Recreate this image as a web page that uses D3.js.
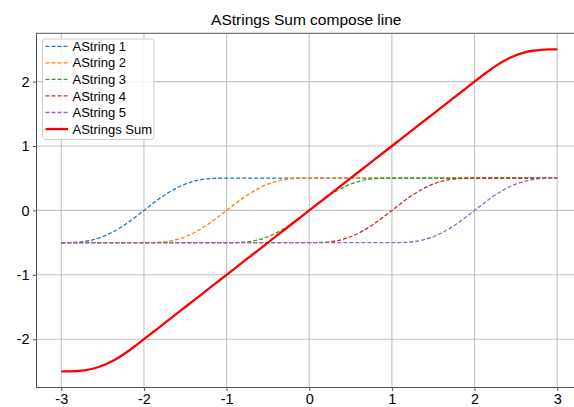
<!DOCTYPE html>
<html>
<head>
  <meta charset='utf-8'>
  <script src='https://cdn.jsdelivr.net/npm/d3@7'></script>
  <style>
    body { margin: 0; background: white; }
    svg { display: block; font-family: 'Liberation Sans', Arial, sans-serif; }
  </style>
</head>
<body>
<script>
  // x samples (step 0.1)
  var xs = [
    -3.0, -2.9, -2.8, -2.7, -2.6, -2.5, -2.4, -2.3, -2.2, -2.1,
    -2.0, -1.9, -1.8, -1.7, -1.6, -1.5, -1.4, -1.3, -1.2, -1.1,
    -1.0, -0.9, -0.8, -0.7, -0.6, -0.5, -0.4, -0.3, -0.2, -0.1,
    0.0, 0.1, 0.2, 0.3, 0.4, 0.5, 0.6, 0.7, 0.8, 0.9,
    1.0, 1.1, 1.2, 1.3, 1.4, 1.5, 1.6, 1.7, 1.8, 1.9,
    2.0, 2.1, 2.2, 2.3, 2.4, 2.5, 2.6, 2.7, 2.8, 2.9,
    3.0
  ];

  var string1 = [
    -0.5, -0.499, -0.494, -0.479, -0.451, -0.409, -0.351, -0.279, -0.194, -0.099,
    0, 0.099, 0.194, 0.279, 0.351, 0.409, 0.451, 0.479, 0.494, 0.499,
    0.5, 0.5, 0.5, 0.5, 0.5, 0.5, 0.5, 0.5, 0.5, 0.5,
    0.5, 0.5, 0.5, 0.5, 0.5, 0.5, 0.5, 0.5, 0.5, 0.5,
    0.5, 0.5, 0.5, 0.5, 0.5, 0.5, 0.5, 0.5, 0.5, 0.5,
    0.5, 0.5, 0.5, 0.5, 0.5, 0.5, 0.5, 0.5, 0.5, 0.5,
    0.5
  ];
  var string2 = [
    -0.5, -0.5, -0.5, -0.5, -0.5, -0.5, -0.5, -0.5, -0.5, -0.5,
    -0.5, -0.499, -0.494, -0.479, -0.451, -0.409, -0.351, -0.279, -0.194, -0.099,
    0, 0.099, 0.194, 0.279, 0.351, 0.409, 0.451, 0.479, 0.494, 0.499,
    0.5, 0.5, 0.5, 0.5, 0.5, 0.5, 0.5, 0.5, 0.5, 0.5,
    0.5, 0.5, 0.5, 0.5, 0.5, 0.5, 0.5, 0.5, 0.5, 0.5,
    0.5, 0.5, 0.5, 0.5, 0.5, 0.5, 0.5, 0.5, 0.5, 0.5,
    0.5
  ];
  var string3 = [
    -0.5, -0.5, -0.5, -0.5, -0.5, -0.5, -0.5, -0.5, -0.5, -0.5,
    -0.5, -0.5, -0.5, -0.5, -0.5, -0.5, -0.5, -0.5, -0.5, -0.5,
    -0.5, -0.499, -0.494, -0.479, -0.451, -0.409, -0.351, -0.279, -0.194, -0.099,
    0, 0.099, 0.194, 0.279, 0.351, 0.409, 0.451, 0.479, 0.494, 0.499,
    0.5, 0.5, 0.5, 0.5, 0.5, 0.5, 0.5, 0.5, 0.5, 0.5,
    0.5, 0.5, 0.5, 0.5, 0.5, 0.5, 0.5, 0.5, 0.5, 0.5,
    0.5
  ];
  var string4 = [
    -0.5, -0.5, -0.5, -0.5, -0.5, -0.5, -0.5, -0.5, -0.5, -0.5,
    -0.5, -0.5, -0.5, -0.5, -0.5, -0.5, -0.5, -0.5, -0.5, -0.5,
    -0.5, -0.5, -0.5, -0.5, -0.5, -0.5, -0.5, -0.5, -0.5, -0.5,
    -0.5, -0.499, -0.494, -0.479, -0.451, -0.409, -0.351, -0.279, -0.194, -0.099,
    0, 0.099, 0.194, 0.279, 0.351, 0.409, 0.451, 0.479, 0.494, 0.499,
    0.5, 0.5, 0.5, 0.5, 0.5, 0.5, 0.5, 0.5, 0.5, 0.5,
    0.5
  ];
  var string5 = [
    -0.5, -0.5, -0.5, -0.5, -0.5, -0.5, -0.5, -0.5, -0.5, -0.5,
    -0.5, -0.5, -0.5, -0.5, -0.5, -0.5, -0.5, -0.5, -0.5, -0.5,
    -0.5, -0.5, -0.5, -0.5, -0.5, -0.5, -0.5, -0.5, -0.5, -0.5,
    -0.5, -0.5, -0.5, -0.5, -0.5, -0.5, -0.5, -0.5, -0.5, -0.5,
    -0.5, -0.499, -0.494, -0.479, -0.451, -0.409, -0.351, -0.279, -0.194, -0.099,
    0, 0.099, 0.194, 0.279, 0.351, 0.409, 0.451, 0.479, 0.494, 0.499,
    0.5
  ];
  var stringsSum = [
    -2.5, -2.499, -2.494, -2.479, -2.451, -2.409, -2.351, -2.279, -2.194, -2.099,
    -2.0, -1.9, -1.8, -1.7, -1.6, -1.5, -1.4, -1.3, -1.2, -1.1,
    -1.0, -0.9, -0.8, -0.7, -0.6, -0.5, -0.4, -0.3, -0.2, -0.1,
    0.0, 0.1, 0.2, 0.3, 0.4, 0.5, 0.6, 0.7, 0.8, 0.9,
    1.0, 1.1, 1.2, 1.3, 1.4, 1.5, 1.6, 1.7, 1.8, 1.9,
    2.0, 2.099, 2.194, 2.279, 2.351, 2.409, 2.451, 2.479, 2.494, 2.499,
    2.5
  ];

  var seriesNames = ['AString 1', 'AString 2', 'AString 3', 'AString 4', 'AString 5', 'AStrings Sum'];
  var seriesColors = ['#1f77b4', '#ff7f0e', '#2ca02c', '#d62728', '#9467bd', '#ff0000'];
  var xTicks = [-3, -2, -1, 0, 1, 2, 3];
  var yTicks = [-2, -1, 0, 1, 2];
  var titleText = 'AStrings Sum compose line';

  (function() {
    var W = 574, H = 407;
    var pLeft = 36.5, pRight = 582, pTop = 33.3, pBottom = 387.5;

    var svg = d3.select('body').append('svg')
      .attr('width', W)
      .attr('height', H);

    var x = d3.scaleLinear().domain([-3.3, 3.3]).range([pLeft, pRight]);
    var y = d3.scaleLinear().domain([-2.75, 2.75]).range([pBottom, pTop]);

    // grid
    svg.append('g').selectAll('line')
      .data(xTicks).enter().append('line')
      .attr('x1', function(d) { return x(d); })
      .attr('x2', function(d) { return x(d); })
      .attr('y1', pTop).attr('y2', pBottom)
      .attr('stroke', '#c4c4c4').attr('stroke-width', 1.1);
    svg.append('g').selectAll('line')
      .data(yTicks).enter().append('line')
      .attr('x1', pLeft).attr('x2', pRight)
      .attr('y1', function(d) { return y(d); })
      .attr('y2', function(d) { return y(d); })
      .attr('stroke', '#c4c4c4').attr('stroke-width', 1.1);

    // axes
    var xAxis = svg.append('g')
      .attr('transform', 'translate(0,' + pBottom + ')')
      .call(d3.axisBottom(x).tickValues(xTicks).tickSize(3.5).tickPadding(2.5)
        .tickFormat(function(d) { return String(d); }));
    var yAxis = svg.append('g')
      .attr('transform', 'translate(' + pLeft + ',0)')
      .call(d3.axisLeft(y).tickValues(yTicks).tickSize(3.5).tickPadding(3.5)
        .tickFormat(function(d) { return String(d); }));
    [xAxis, yAxis].forEach(function(a) {
      a.select('.domain').remove();
      a.selectAll('.tick line').attr('stroke', '#555');
      a.selectAll('.tick text')
        .attr('fill', '#000')
        .style('font-size', '14.5px')
        .style('font-family', "'Liberation Sans', Arial, sans-serif");
    });

    // lines
    var allSeries = [string1, string2, string3, string4, string5, stringsSum];
    var line = d3.line()
      .x(function(d) { return x(d[0]); })
      .y(function(d) { return y(d[1]); })
      .curve(d3.curveMonotoneX);

    allSeries.forEach(function(vals, k) {
      var pts = xs.map(function(v, i) { return [v, vals[i]]; });
      var isSum = k === 5;
      svg.append('path')
        .datum(pts)
        .attr('d', line)
        .attr('fill', 'none')
        .attr('stroke', seriesColors[k])
        .attr('stroke-width', isSum ? 2.3 : 1.3)
        .attr('stroke-dasharray', isSum ? null : '4,2');
    });

    // spines
    svg.append('rect')
      .attr('x', pLeft).attr('y', pTop)
      .attr('width', pRight - pLeft).attr('height', pBottom - pTop)
      .attr('fill', 'none').attr('stroke', '#555').attr('stroke-width', 1);

    // title
    svg.append('text')
      .attr('x', (pLeft + pRight) / 2 - 3)
      .attr('y', 25)
      .attr('text-anchor', 'middle')
      .style('font-size', '15.5px')
      .attr('fill', '#000')
      .text(titleText);

    // legend
    var lg = svg.append('g');
    lg.append('rect')
      .attr('x', 42.5).attr('y', 39)
      .attr('width', 111.5).attr('height', 100.5)
      .attr('rx', 3)
      .attr('fill', 'white').attr('fill-opacity', 0.85)
      .attr('stroke', '#cfcfcf');
    seriesNames.forEach(function(name, k) {
      var cy = 46.3 + k * 16.55;
      var isSum = k === 5;
      lg.append('line')
        .attr('x1', 45.5).attr('x2', 68)
        .attr('y1', cy).attr('y2', cy)
        .attr('stroke', seriesColors[k])
        .attr('stroke-width', isSum ? 2.3 : 1.3)
        .attr('stroke-dasharray', isSum ? null : '4,2');
      lg.append('text')
        .attr('x', 72.5).attr('y', cy)
        .attr('dy', '0.35em')
        .style('font-size', '13px')
        .attr('fill', '#000')
        .text(name);
    });
  })();
</script>
</body>
</html>
